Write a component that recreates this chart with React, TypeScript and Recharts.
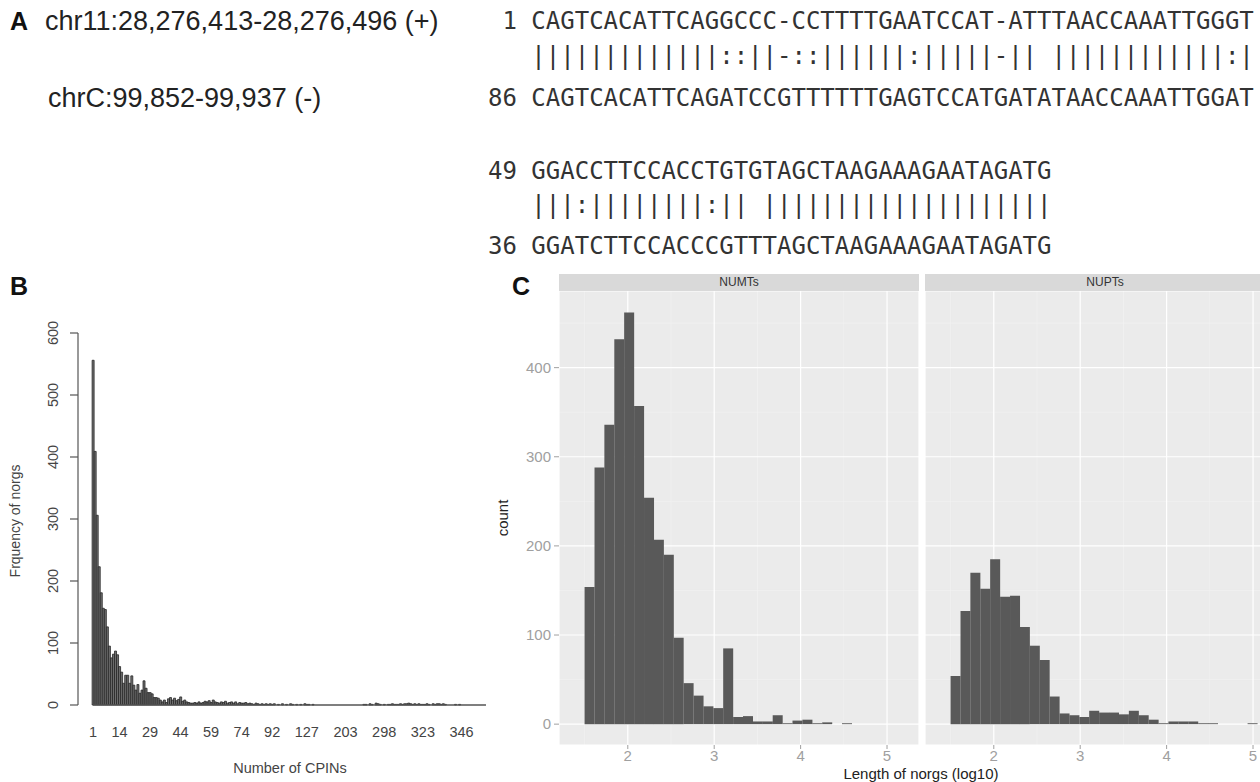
import React from "react";
import { BarChart, Bar, XAxis, YAxis, CartesianGrid, ReferenceLine } from "recharts";

const SANS = '"Liberation Sans", Arial, sans-serif';
const MONO = '"DejaVu Sans Mono", monospace';

// panel A: alignment
const plusCoords = "chr11:28,276,413-28,276,496 (+)";
const minusCoords = "chrC:99,852-99,937 (-)";
const alignRows = [
  " 1 CAGTCACATTCAGGCCC-CCTTTTGAATCCAT-ATTTAACCAAATTGGGT",
  "   |||||||||||||::||-::||||||:|||||-|| ||||||||||||:|",
  "86 CAGTCACATTCAGATCCGTTTTTTGAGTCCATGATATAACCAAATTGGAT",
  "49 GGACCTTCCACCTGTGTAGCTAAGAAAGAATAGATG",
  "   |||:||||||||:|| ||||||||||||||||||||",
  "36 GGATCTTCCACCCGTTTAGCTAAGAAAGAATAGATG",
];
const alignBaselines = [29, 64, 106, 179, 213, 254];

// panel B: number of CPINs per norg
const cpinCats = [
  1, 2, 3, 4, 5, 6, 7, 8, 9, 10, 11, 12, 13, 14, 15, 16, 17, 18, 19, 20,
  21, 22, 23, 24, 25, 26, 27, 28, 29, 30, 31, 32, 33, 34, 35, 36, 37, 38, 39, 40,
  41, 42, 43, 44, 45, 46, 47, 48, 49, 50, 51, 52, 53, 54, 55, 56, 57, 58, 59, 60,
  61, 62, 63, 64, 65, 66, 67, 68, 69, 70, 71, 72, 73, 74,
  75, 76, 77, 78, 79, 80, 81, 82, 84, 85, 86, 87, 89, 90, 92,
  93, 94, 95, 96, 98, 99, 101, 103, 105, 107, 109, 112, 115, 118, 121, 124, 127,
  130, 133, 136, 139, 142, 146, 150, 154, 158, 162, 166, 170, 175, 180, 185, 190, 194, 198, 203,
  208, 213, 218, 223, 228, 234, 240, 246, 252, 258, 264, 270, 275, 280, 284, 288, 291, 295, 298,
  299, 300, 301, 302, 303, 304, 306, 307, 308, 309, 311, 312, 314, 315, 316, 318, 319, 321, 323,
  324, 325, 326, 327, 328, 329, 331, 332, 333, 334, 335, 337, 338, 339, 340, 341, 343, 344, 346,
  347, 348, 349, 350, 352, 353, 355, 357, 360, 364, 368, 375,
];
const cpinFreq = [
  556, 409, 306, 223, 181, 156, 154, 126, 95, 76, 82, 87, 81, 62, 53, 35, 48, 48, 35, 47,
  32, 24, 33, 19, 24, 39, 27, 20, 20, 18, 12, 12, 11, 8, 5, 8, 4,
  10, 12, 8, 11, 7, 9, 13, 6, 8, 5, 4, 3, 3,
  4, 3, 5, 3, 4, 6, 5, 7, 4, 8, 5, 4, 3, 5, 4, 6, 3, 4, 5, 3, 5, 2, 4, 3,
  3, 4, 2, 3, 2, 1, 3, 2, 1, 2, 1, 2, 1, 2, 1,
  2, 0, 1, 0, 2, 0, 1, 0, 2, 1, 0, 1, 0, 1, 0, 2, 1,
  1, 0, 1, 0, 0, 0, 0, 0, 0, 0, 0, 0, 0, 0, 0, 0, 0, 0, 0,
  0, 0, 0, 0, 0, 0, 0, 0, 1, 1, 0, 2, 1, 0, 3, 2, 1, 0, 1,
  0, 1, 1, 2, 1, 1, 1, 2, 1, 2, 2, 3, 2, 1, 2, 1, 2, 1, 1,
  1, 2, 1, 0, 2, 1, 2, 2, 1, 2, 1, 0, 0, 0, 0, 1, 0, 1, 0,
  0, 0, 0, 0, 0, 0, 0, 0, 0, 0, 0, 0,
];
const cpinTicks = [1, 14, 29, 44, 59, 74, 92, 127, 203, 298, 323, 346];
const freqTicks = [0, 100, 200, 300, 400, 500, 600];

// panel C: length histograms (log10), one list per facet
const binMids = [
  1.557, 1.672, 1.786, 1.901, 2.015, 2.13, 2.245, 2.359, 2.474, 2.588,
  2.703, 2.818, 2.932, 3.047, 3.161, 3.276, 3.39, 3.505, 3.62, 3.734,
  3.849, 3.963, 4.078, 4.192, 4.307, 4.422, 4.536, 4.651, 4.765, 4.88, 4.994,
];
const numtsCounts = [
  154, 288, 336, 432, 462, 357, 254, 207, 190, 97, 46, 32, 20, 18, 85, 8,
  9, 3, 3, 10, 1, 4, 5, 1, 2, 0, 1, 0, 0, 0, 0,
];
const nuptsCounts = [
  54, 127, 170, 152, 185, 143, 144, 109, 88, 72, 31, 12, 10, 8, 15, 13,
  13, 11, 15, 10, 5, 1, 3, 3, 3, 1, 1, 0, 0, 0, 1,
];
const lenTicks = [2, 3, 4, 5];
const lenMinor = [1.5, 2.5, 3.5, 4.5];
const countTicks = [0, 100, 200, 300, 400];
const countMinor = [50, 150, 250, 350, 450];

const cpinData = cpinCats.map((cpin, i) => ({ cpin, freq: cpinFreq[i] }));
const numtsData = binMids.map((mid, i) => ({ mid, count: numtsCounts[i] }));
const nuptsData = binMids.map((mid, i) => ({ mid, count: nuptsCounts[i] }));

const RotatedTick = (props: any) => {
  const { x, y, payload } = props;
  const tx = x - 12;
  return (
    <text
      x={tx}
      y={y}
      transform={`rotate(-90 ${tx} ${y})`}
      textAnchor="middle"
      fill="#444"
      fontSize={14.5}
      fontFamily={SANS}
    >
      {payload.value}
    </text>
  );
};

const Facet = ({ data, showY }: { data: { mid: number; count: number }[]; showY: boolean }) => (
  <BarChart
    width={showY ? 439 : 360}
    height={491}
    data={data}
    margin={{ top: 0, right: 0, bottom: 0, left: 0 }}
    barCategoryGap={0}
    barGap={0}
  >
    <CartesianGrid
      fill="#EBEBEB"
      stroke="#F4F4F4"
      strokeWidth={0.6}
      horizontalValues={countMinor}
      verticalValues={lenMinor}
    />
    <CartesianGrid stroke="#FFFFFF" strokeWidth={1.2} />
    <XAxis
      type="number"
      dataKey="mid"
      domain={[1.204, 5.37]}
      ticks={lenTicks}
      allowDataOverflow
      height={37}
      axisLine={false}
      tickSize={4}
      tickMargin={1}
      tickLine={{ stroke: "#a0a0a0" }}
      tick={{ fill: "#a0a0a0", fontSize: 15, fontFamily: SANS }}
    />
    <YAxis
      hide={!showY}
      domain={[-23.4, 486]}
      ticks={countTicks}
      allowDataOverflow
      width={79}
      axisLine={false}
      tickSize={5}
      tickMargin={3}
      tickLine={{ stroke: "#a0a0a0" }}
      tick={{ fill: "#a0a0a0", fontSize: 15, fontFamily: SANS }}
    />
    <Bar dataKey="count" fill="#595959" isAnimationActive={false} />
  </BarChart>
);

const stripStyle: React.CSSProperties = {
  position: "absolute",
  top: 274,
  width: 360,
  height: 17,
  background: "#D9D9D9",
  color: "#333",
  fontFamily: SANS,
  fontSize: 12,
  lineHeight: "17px",
  textAlign: "center",
};

export default function App() {
  return (
    <div
      style={{
        position: "relative",
        width: 1260,
        height: 782,
        overflow: "hidden",
        background: "#fff",
      }}
    >
      <style>{"body{margin:0}"}</style>

      <svg
        width={1260}
        height={782}
        style={{ position: "absolute", left: 0, top: 0 }}
      >
        <g fontFamily={SANS}>
          <text x={10} y={30} fontSize={25} fontWeight="bold" fill="#111">A</text>
          <text x={45} y={30} fontSize={27} fill="#222">{plusCoords}</text>
          <text x={48} y={107} fontSize={27} fill="#222">{minusCoords}</text>
          <text x={10} y={295} fontSize={25} fontWeight="bold" fill="#111">B</text>
          <text x={512} y={295} fontSize={25} fontWeight="bold" fill="#111">C</text>
          <text
            x={20}
            y={521}
            transform="rotate(-90 20 521)"
            textAnchor="middle"
            fontSize={14}
            fill="#444"
          >
            Frquency of norgs
          </text>
          <text x={290} y={773} textAnchor="middle" fontSize={14.5} fill="#444">
            Number of CPINs
          </text>
          <text
            x={508}
            y={518}
            transform="rotate(-90 508 518)"
            textAnchor="middle"
            fontSize={15}
            fill="#222"
          >
            count
          </text>
          <text x={921} y={779} textAnchor="middle" fontSize={15} fill="#222">
            Length of norgs (log10)
          </text>
        </g>
        <g fontFamily={MONO} fontSize={24} fill="#333">
          {alignRows.map((row, i) => (
            <text key={i} x={488} y={alignBaselines[i]} style={{ whiteSpace: "pre" }}>
              {row}
            </text>
          ))}
        </g>
      </svg>

      <div style={{ position: "absolute", left: 0, top: 300 }}>
        <BarChart
          width={500}
          height={470}
          data={cpinData}
          margin={{ top: 33, right: 13, bottom: 0, left: 0 }}
          barCategoryGap="6%"
        >
          <XAxis
            dataKey="cpin"
            type="category"
            ticks={cpinTicks}
            interval={0}
            height={65}
            padding={{ left: 14, right: 0 }}
            axisLine={false}
            tickLine={false}
            tickSize={0}
            tickMargin={22}
            tick={{ fill: "#444", fontSize: 14.5, fontFamily: SANS }}
          />
          <YAxis
            domain={[0, 600]}
            ticks={freqTicks}
            width={78}
            tickSize={8}
            tickMargin={0}
            axisLine={{ stroke: "#555", strokeWidth: 1.2 }}
            tickLine={{ stroke: "#555", strokeWidth: 1.2 }}
            tick={<RotatedTick />}
          />
          <Bar
            dataKey="freq"
            fill="#6f6f6f"
            stroke="#262626"
            strokeWidth={0.8}
            isAnimationActive={false}
          />
          <ReferenceLine
            segment={[
              { x: cpinCats[0], y: 0 },
              { x: cpinCats[cpinCats.length - 1], y: 0 },
            ]}
            stroke="#555"
            strokeWidth={1.5}
          />
        </BarChart>
      </div>

      <div style={{ ...stripStyle, left: 559 }}>NUMTs</div>
      <div style={{ ...stripStyle, left: 925 }}>NUPTs</div>

      <div style={{ position: "absolute", left: 480, top: 291 }}>
        <Facet data={numtsData} showY />
      </div>
      <div style={{ position: "absolute", left: 925, top: 291 }}>
        <Facet data={nuptsData} showY={false} />
      </div>
    </div>
  );
}
